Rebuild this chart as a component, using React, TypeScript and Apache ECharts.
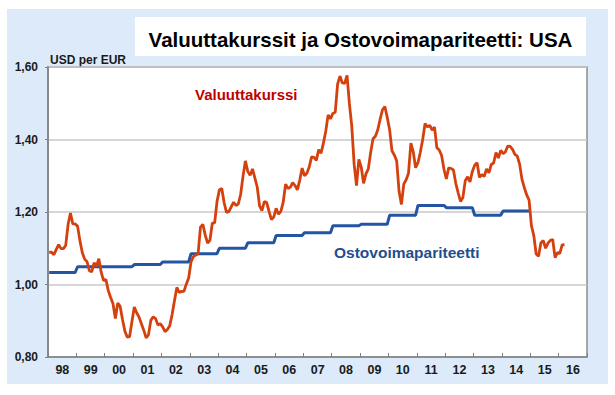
import { useEffect, useRef } from "react";
import * as echarts from "echarts";

// Year tick labels on the x axis (1998 ... 2016)
const yearLabels = ["98", "99", "00", "01", "02", "03", "04", "05", "06", "07", "08", "09", "10", "11", "12", "13", "14", "15", "16"];

// Y axis range (USD per EUR)
const yMin = 0.8;
const yMax = 1.6;
const yStep = 0.2;

// Purchasing power parity, one level per year 1998 ... 2014
const pppByYear = [1.033, 1.049, 1.049, 1.055, 1.062, 1.085, 1.1, 1.115, 1.135, 1.143, 1.162, 1.166, 1.191, 1.218, 1.212, 1.191, 1.203];

// Exchange rate USD per EUR, monthly, Jan 1998 ... Mar 2016
const exchangeRate = [
  1.089, 1.089, 1.082, 1.097, 1.11, 1.099, 1.099, 1.108, 1.166, 1.197, 1.167, 1.167, // 1998
  1.161, 1.121, 1.088, 1.07, 1.063, 1.038, 1.035, 1.06, 1.05, 1.071, 1.034, 1.011, // 1999
  1.014, 0.983, 0.964, 0.947, 0.906, 0.949, 0.94, 0.904, 0.872, 0.855, 0.856, 0.897, // 2000
  0.938, 0.922, 0.91, 0.892, 0.874, 0.853, 0.861, 0.901, 0.911, 0.906, 0.888, 0.892, // 2001
  0.883, 0.87, 0.876, 0.886, 0.917, 0.955, 0.992, 0.978, 0.981, 0.981, 1.001, 1.018, // 2002
  1.062, 1.077, 1.081, 1.085, 1.158, 1.166, 1.137, 1.114, 1.122, 1.169, 1.17, 1.229, // 2003
  1.261, 1.265, 1.226, 1.199, 1.201, 1.214, 1.227, 1.218, 1.222, 1.249, 1.299, 1.341, // 2004
  1.312, 1.301, 1.319, 1.294, 1.269, 1.217, 1.204, 1.229, 1.226, 1.202, 1.179, 1.186, // 2005
  1.21, 1.194, 1.202, 1.227, 1.277, 1.265, 1.268, 1.281, 1.273, 1.261, 1.288, 1.321, // 2006
  1.3, 1.307, 1.324, 1.352, 1.351, 1.342, 1.372, 1.362, 1.39, 1.423, 1.468, 1.457, // 2007
  1.472, 1.475, 1.553, 1.575, 1.556, 1.555, 1.577, 1.498, 1.437, 1.332, 1.273, 1.345, // 2008
  1.324, 1.279, 1.305, 1.319, 1.365, 1.402, 1.409, 1.427, 1.456, 1.482, 1.491, 1.461, // 2009
  1.427, 1.369, 1.357, 1.341, 1.257, 1.221, 1.277, 1.289, 1.307, 1.39, 1.366, 1.322, // 2010
  1.336, 1.365, 1.4, 1.444, 1.435, 1.439, 1.426, 1.434, 1.377, 1.371, 1.356, 1.318, // 2011
  1.291, 1.322, 1.32, 1.316, 1.279, 1.253, 1.229, 1.24, 1.286, 1.297, 1.283, 1.312, // 2012
  1.329, 1.336, 1.296, 1.303, 1.298, 1.319, 1.308, 1.331, 1.335, 1.364, 1.349, 1.37, // 2013
  1.361, 1.366, 1.382, 1.381, 1.373, 1.359, 1.354, 1.332, 1.29, 1.267, 1.247, 1.233, // 2014
  1.162, 1.135, 1.084, 1.078, 1.115, 1.121, 1.1, 1.114, 1.122, 1.124, 1.074, 1.088, // 2015
  1.086, 1.109, 1.11, // 2016
];

const titleText = "Valuuttakurssit ja Ostovoimapariteetti: USA";
const unitText = "USD per EUR";
const rateName = "Valuuttakurssi";
const pppName = "Ostovoimapariteetti";

export default function App() {
  const ref = useRef<HTMLDivElement>(null);

  useEffect(() => {
    if (!ref.current) return;
    const chart = echarts.init(ref.current, null, { renderer: "svg" });

    const months: string[] = [];
    yearLabels.forEach((y) => {
      for (let m = 1; m <= 12; m++) months.push(`${y}-${m}`);
    });
    const rateData = months.map((_, i) => (i < exchangeRate.length ? exchangeRate[i] : null));
    const pppData = months.map((_, i) => {
      const yi = Math.floor(i / 12);
      return yi < pppByYear.length ? pppByYear[yi] : null;
    });

    const font = '"Liberation Sans", Arial, sans-serif';

    chart.setOption({
      animation: false,
      backgroundColor: "transparent",
      grid: {
        left: 48,
        right: 28,
        top: 67,
        bottom: 38,
        show: true,
        backgroundColor: "#ffffff",
        borderColor: "#8c8c8c",
        borderWidth: 1.5,
      },
      xAxis: {
        type: "category",
        data: months,
        boundaryGap: true,
        axisLine: { show: true, lineStyle: { color: "#7f7f7f", width: 1.5 } },
        axisTick: {
          show: true,
          inside: true,
          length: 4,
          interval: (index: number) => index % 12 === 0,
          lineStyle: { color: "#7f7f7f", width: 1 },
        },
        axisLabel: {
          show: true,
          interval: (index: number) => index % 12 === 6,
          formatter: (_v: string, index: number) => yearLabels[Math.floor(index / 12)],
          margin: 6,
          padding: [0, 2, 0, 0],
          color: "#1a1a1a",
          fontWeight: "bold",
          fontSize: 12.5,
          fontFamily: font,
        },
        splitLine: { show: false },
      },
      yAxis: {
        type: "value",
        min: yMin,
        max: yMax,
        interval: yStep,
        axisLine: { show: true, lineStyle: { color: "#7f7f7f", width: 1.5 } },
        axisTick: { show: true, inside: false, length: 3, lineStyle: { color: "#7f7f7f" } },
        axisLabel: {
          margin: 10,
          formatter: (v: number) => v.toFixed(2).replace(".", ","),
          color: "#1a1a1a",
          fontWeight: "bold",
          fontSize: 12,
          fontFamily: font,
        },
        splitLine: { show: true, lineStyle: { color: "#c8c8c8", width: 1.5 } },
      },
      series: [
        {
          name: pppName,
          type: "line",
          data: pppData,
          showSymbol: false,
          symbol: "none",
          silent: true,
          connectNulls: false,
          lineStyle: { color: "#2455a2", width: 3 },
          z: 2,
        },
        {
          name: rateName,
          type: "line",
          data: rateData,
          showSymbol: false,
          symbol: "none",
          silent: true,
          connectNulls: false,
          lineStyle: { color: "#d4410f", width: 2.8 },
          z: 3,
        },
      ],
      graphic: [
        {
          type: "rect",
          shape: { x: 135, y: 17, width: 451, height: 39 },
          style: { fill: "#ffffff" },
          silent: true,
        },
        {
          type: "text",
          x: 360.5,
          y: 39.5,
          style: {
            text: titleText,
            fill: "#000000",
            font: 'bold 20.5px "Liberation Sans", Arial, sans-serif',
            textAlign: "center",
            align: "center",
            textVerticalAlign: "middle",
            verticalAlign: "middle",
          },
          silent: true,
        },
        {
          type: "text",
          x: 50,
          y: 59.5,
          style: {
            text: unitText,
            fill: "#1a1a1a",
            font: `bold 12px ${font}`,
            textAlign: "left",
            align: "left",
            textVerticalAlign: "middle",
            verticalAlign: "middle",
          },
          silent: true,
        },
        {
          type: "text",
          x: 195,
          y: 94,
          style: {
            text: rateName,
            fill: "#c00000",
            font: `bold 15px ${font}`,
            textAlign: "left",
            align: "left",
            textVerticalAlign: "middle",
            verticalAlign: "middle",
          },
          silent: true,
        },
        {
          type: "text",
          x: 334,
          y: 252.5,
          style: {
            text: pppName,
            fill: "#1f4e8f",
            font: `bold 15.5px ${font}`,
            textAlign: "left",
            align: "left",
            textVerticalAlign: "middle",
            verticalAlign: "middle",
          },
          silent: true,
        },
      ],
    });

    return () => {
      chart.dispose();
    };
  }, []);

  return (
    <div style={{ position: "fixed", left: 0, top: 0, width: 615, height: 395, background: "#ffffff" }}>
      <div style={{ position: "absolute", left: 7, top: 9, width: 601, height: 375, background: "#dceafa" }} />
      <div ref={ref} style={{ position: "absolute", left: 0, top: 0, width: 615, height: 395 }} />
    </div>
  );
}
